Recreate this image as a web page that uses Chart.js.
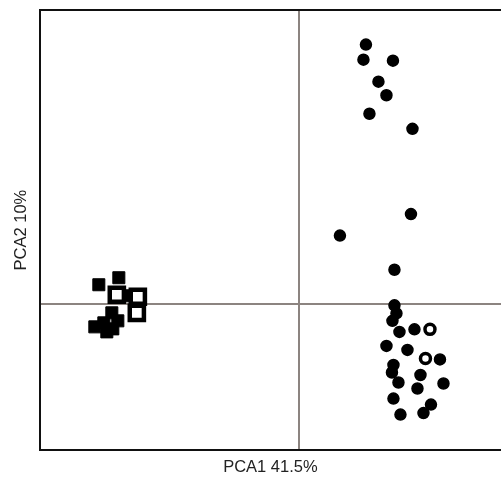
<!DOCTYPE html>
<html><head><meta charset="utf-8">
<script src="https://cdn.jsdelivr.net/npm/chart.js@4/dist/chart.umd.min.js"></script>
<style>html,body{margin:0;padding:0;background:#fff}#wrap{width:501px;height:481px}</style>
</head><body><div id="wrap"><canvas id="c"></canvas></div>
<script>
// PCA scores (arbitrary units)
const circleFilledX = [1.34,1.29,1.88,1.59,1.75,1.41,2.27,2.24,0.82,1.91,1.91,1.95,1.87,2.01,2.31,1.75,2.17,2.82,1.89,1.86,2.43,1.99,2.89,2.37,1.89,2.64,2.03,2.49];
const circleFilledY = [5.17,4.87,4.85,4.43,4.16,3.79,3.49,1.79,1.36,0.68,-0.03,-0.19,-0.34,-0.56,-0.51,-0.84,-0.92,-1.11,-1.22,-1.37,-1.42,-1.57,-1.59,-1.69,-1.89,-2.01,-2.21,-2.18];
const circleOpenX = [2.62,2.53];
const circleOpenY = [-0.51,-1.09];
const squareFilledX = [-4.00,-3.60,-3.40,-3.74,-3.62,-3.90,-4.08,-3.84,-3.72];
const squareFilledY = [0.38,0.52,0.16,-0.18,-0.34,-0.38,-0.46,-0.56,-0.50];
const squareOpenX = [-3.64,-3.22,-3.24];
const squareOpenY = [0.18,0.14,-0.18];
const xTitle = 'PCA1 41.5%';
const yTitle = 'PCA2 10%';

const pts = (xs, ys) => xs.map((x, i) => ({x, y: ys[i]}));
const lineColor = '#8c8480';
const gridAtZero = ctx => (ctx.tick && ctx.tick.value === 0) ? lineColor : 'rgba(0,0,0,0)';

new Chart(document.getElementById('c'), {
  type: 'scatter',
  data: { datasets: [
    { data: pts(squareOpenX, squareOpenY), pointStyle: 'rect', radius: 10, backgroundColor: '#fff', borderColor: '#000', borderWidth: 4.5 },
    { data: pts(squareFilledX, squareFilledY), pointStyle: 'rect', radius: 8.5, backgroundColor: '#000', borderColor: '#000', borderWidth: 1 },
    { data: pts(circleFilledX, circleFilledY), pointStyle: 'circle', radius: 5.5, backgroundColor: '#000', borderColor: '#000', borderWidth: 1.5 },
    { data: pts(circleOpenX, circleOpenY), pointStyle: 'circle', radius: 5, backgroundColor: '#fff', borderColor: '#000', borderWidth: 3.5 }
  ]},
  options: {
    responsive: true, maintainAspectRatio: false, animation: false,
    layout: { autoPadding: false, padding: { left: 12, top: 10, right: 0, bottom: 4 } },
    plugins: { legend: { display: false }, tooltip: { enabled: false } },
    scales: {
      x: {
        type: 'linear', min: -5.18, max: 4.04,
        ticks: { display: false, stepSize: 1 },
        grid: { color: gridAtZero, lineWidth: 2, drawTicks: false },
        border: { display: true, color: '#111', width: 2 },
        title: { display: true, text: xTitle, color: '#222', font: { family: 'Liberation Sans, Arial', size: 16.5 }, padding: { top: 7, bottom: 0 } }
      },
      x2: {
        type: 'linear', position: 'top', min: -5.18, max: 4.04,
        ticks: { display: false }, grid: { display: false, drawTicks: false },
        border: { display: true, color: '#111', width: 2 }
      },
      y: {
        type: 'linear', min: -2.92, max: 5.86,
        ticks: { display: false, stepSize: 1 },
        grid: { color: gridAtZero, lineWidth: 2, drawTicks: false },
        border: { display: true, color: '#111', width: 2 },
        title: { display: true, text: yTitle, color: '#222', font: { family: 'Liberation Sans, Arial', size: 16.5 }, padding: { top: 0, bottom: 8 } }
      }
    }
  }
});
</script></body></html>
